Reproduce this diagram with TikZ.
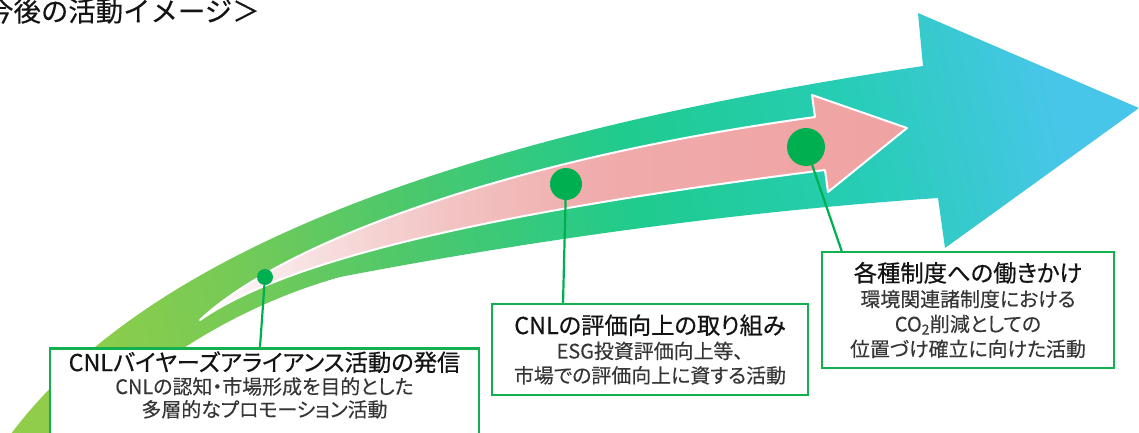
\documentclass[tikz,border=0pt]{standalone}
\usepackage{fontspec}
\newfontfamily\jp[RawFeature=+palt, FakeBold=0.25]{Noto Sans CJK JP}
\newfontfamily\jpt[RawFeature=+palt, FakeBold=0.55]{Noto Sans CJK JP}
\newfontfamily\jph[FakeBold=0.2]{Noto Sans CJK JP}
\definecolor{boxgreen}{HTML}{12B04E}
\definecolor{dotgreen}{HTML}{00B050}
\definecolor{ttl}{HTML}{141414}
\definecolor{sub}{HTML}{363636}
\definecolor{g1}{HTML}{8FCD4A}
\definecolor{g2}{HTML}{74CA57}
\definecolor{g3}{HTML}{4CC86C}
\definecolor{g4}{HTML}{20CB8E}
\definecolor{g5}{HTML}{26CDB4}
\definecolor{g6}{HTML}{48C6EA}
\definecolor{p0}{HTML}{FFFFFF}
\definecolor{p1}{HTML}{F8E2E2}
\definecolor{p2}{HTML}{F3C3C3}
\definecolor{p3}{HTML}{F0ABAB}
\definecolor{p4}{HTML}{F0A2A2}
\pgfdeclarehorizontalshading{bandshade}{100bp}{color(0bp)=(g1); color(25bp)=(g1); color(33.5bp)=(g2); color(42.3bp)=(g3); color(53.4bp)=(g4); color(64.4bp)=(g5); color(75bp)=(g6); color(100bp)=(g6)}
\pgfdeclarehorizontalshading{pinkshade}{100bp}{color(0bp)=(p0); color(25bp)=(p0); color(32.1bp)=(p1); color(42.7bp)=(p2); color(53.3bp)=(p3); color(75bp)=(p4); color(100bp)=(p4)}
\tikzset{
  boxnode/.style={draw=boxgreen, line width=2.6bp, fill=white, align=center, inner xsep=0bp, text=sub, font=\jp\fontsize{20}{25}\selectfont},
  dot/.style={circle, fill=dotgreen, inner sep=0bp},
  conn/.style={draw=dotgreen, line width=2.2bp},
}
\newcommand{\ttlf}{\jpt\fontsize{23.4}{25}\selectfont\color{ttl}}
\begin{document}
\begin{tikzpicture}[x=1bp, y=-1bp]
\useasboundingbox (0,0) rectangle (1139,432);
% heading
\node[anchor=west, inner sep=0bp, font=\jph\fontsize{27.5}{27.5}\selectfont, text=ttl] (head) at (-14,11) {今後の活動イメージ＞};
% big band arrow
\shade[shading=bandshade, shading angle=12] (3,446) -- (8,438) .. controls (160,230) and (523,126) .. (923,66) -- (918,13) -- (1139,108) -- (945,248) -- (938,198) .. controls (700,214) and (480,250) .. (340,277) .. controls (240,305) and (140,365) .. (70,446) -- cycle;
% pink inner arrow
\shadedraw[shading=pinkshade, draw=white, line width=2bp, line join=round] (200,320) .. controls (280,245) and (500,160) .. (815,117) -- (812,95) -- (907,128) -- (828,192) -- (825,170) .. controls (550,205) and (300,250) .. (200,320) -- cycle;
% boxes
\node[boxnode, anchor=north, minimum width=429bp, inner ysep=3bp, text depth=45bp, font=\jp\fontsize{20}{23}\selectfont] (b1) at (264.5,347) {{\ttlf CNLバイヤーズアライアンス活動の発信}\\CNLの認知・市場形成を目的とした\\多層的なプロモーション活動};
\node[boxnode, minimum width=316bp, minimum height=91bp, inner ysep=0bp, font=\jp\fontsize{20}{24.5}\selectfont] (b2) at (650,349.5) {{\ttlf CNLの評価向上の取り組み}\\ESG投資評価向上等、\\市場での評価向上に資する活動};
\node[boxnode, minimum width=292bp, minimum height=116bp, inner ysep=0bp] (b3) at (968,310) {{\ttlf 各種制度への働きかけ}\\環境関連諸制度における\\CO\textsubscript{2}削減としての\\位置づけ確立に向けた活動};
% connector end points on the boxes
\coordinate (k1) at (260,347);
\coordinate (k2) at (563,304);
\coordinate (k3) at (842,252);
% dots
\node[dot, minimum size=16bp] (d1) at (265,277) {};
\node[dot, minimum size=32bp] (d2) at (566,184) {};
\node[dot, minimum size=38bp] (d3) at (806,147) {};
\draw[conn] (d1) -- (k1);
\draw[conn] (d2) -- (k2);
\draw[conn] (d3) -- (k3);
\end{tikzpicture}
\end{document}
